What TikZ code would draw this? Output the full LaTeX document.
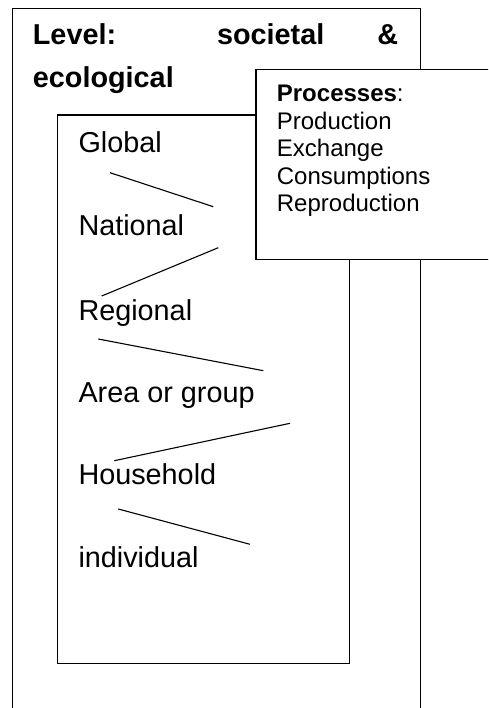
\documentclass[tikz,border=0pt]{standalone}
\usepackage{fontspec}
\setmainfont{Liberation Sans}
\begin{document}
\begin{tikzpicture}[x=1pt,y=-1pt,
  frame/.style={draw=black, line width=1.1pt},
  link/.style={draw=black, line width=1.1pt},
  levelitem/.style={anchor=base west, inner sep=0pt, font=\fontsize{28.8}{34}\selectfont},
  procitem/.style={anchor=base west, inner sep=0pt, font=\fontsize{24}{27.5}\selectfont}]
\useasboundingbox (0,0) rectangle (488,708);
\clip (0,0) rectangle (488,708);

% outer frame (open below the page edge) and the inner frame of levels
\draw[frame] (12.3,8.3) rectangle (420.5,740);
\draw[frame] (57.3,115) rectangle (349.3,663.3);

% heading, justified over two lines
\node[anchor=base west, inner sep=0pt, text width=365.3pt, align=justify,
      font=\bfseries\fontsize{28.8}{42.5}\selectfont] (title) at (32.7,45)
  {\tolerance=10000 Level: societal \& \mbox{ecological}};

% levels
\node[levelitem] (global)     at (78.3,152.5) {Global};
\node[levelitem] (national)   at (78.3,236)   {National};
\node[levelitem] (regional)   at (78.3,320)   {Regional};
\node[levelitem] (area)       at (78.3,402)   {Area or group};
\node[levelitem] (household)  at (78.3,484)   {Household};
\node[levelitem] (individual) at (78.3,567)   {individual};

% zig-zag links between the levels
\coordinate (l1a) at (110,172.7);   \coordinate (l1b) at (213.3,206.7);
\coordinate (l2a) at (218.3,247.7); \coordinate (l2b) at (101.7,296);
\coordinate (l3a) at (98.3,339);    \coordinate (l3b) at (263.3,370.7);
\coordinate (l4a) at (290,423.3);   \coordinate (l4b) at (114.3,460.7);
\coordinate (l5a) at (118.3,509);   \coordinate (l5b) at (250,544.3);
\draw[link] (l1a) -- (l1b);
\draw[link] (l2a) -- (l2b);
\draw[link] (l3a) -- (l3b);
\draw[link] (l4a) -- (l4b);
\draw[link] (l5a) -- (l5b);

% processes box on top
\draw[frame, fill=white] (256,69.3) rectangle (530,259.3);
\node[procitem] (ptitle) at (276.7,101.7) {\textbf{Processes}:};
\node[procitem] (p1) at (276.7,129.3) {Production};
\node[procitem] (p2) at (276.7,156.8) {Exchange};
\node[procitem] (p3) at (276.7,184.3) {Consumptions};
\node[procitem] (p4) at (276.7,211.8) {Reproduction};
\end{tikzpicture}
\end{document}
